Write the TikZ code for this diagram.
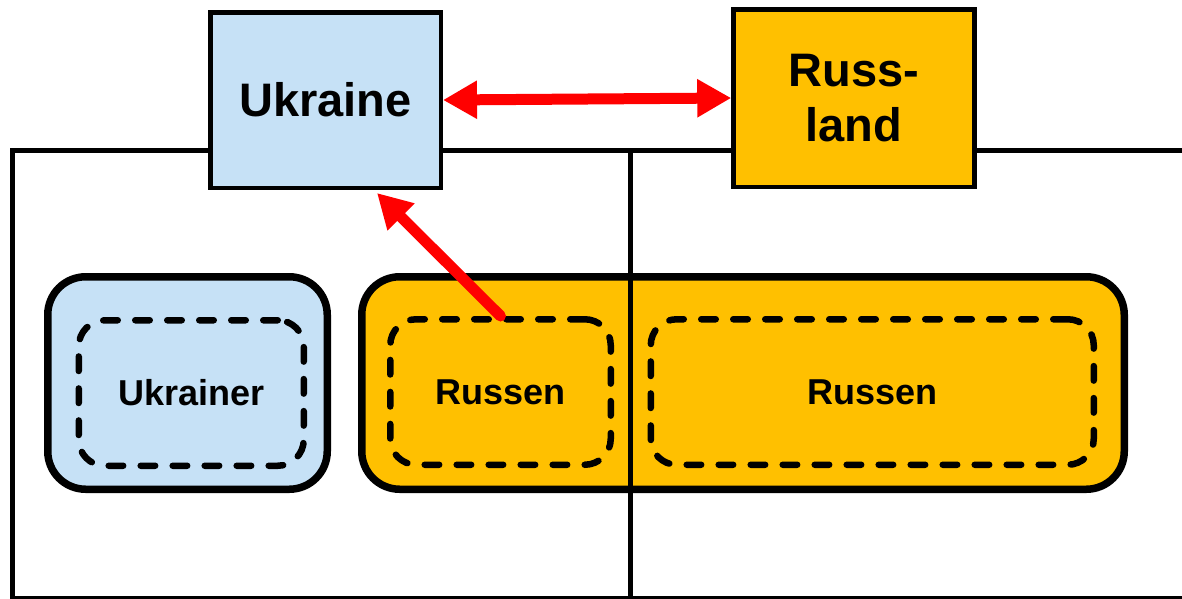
\documentclass[tikz,border=0pt]{standalone}
\usepackage{fontspec}
\setmainfont{Liberation Sans}
\usetikzlibrary{arrows.meta,positioning,calc}
\definecolor{ukblue}{RGB}{198,225,246}
\definecolor{ruorange}{RGB}{255,192,0}
\tikzset{
  bigtip/.tip={Triangle[length=34pt,width=36pt]},
  land/.style={draw=black,line width=4.5pt,align=center,inner sep=0pt,
    font=\bfseries\fontsize{47}{55}\selectfont},
  group/.style={draw=black,line width=7.5pt,rounded corners=38pt,
    minimum height=212.5pt},
  sub/.style={draw=black,line width=6.5pt,dash pattern=on 14.5pt off 17.5pt,
    line cap=round,rounded corners=26pt,minimum height=145.5pt,
    font=\bfseries\fontsize{36}{40}\selectfont},
  link/.style={red,line width=11pt,-bigtip},
}
\begin{document}
\begin{tikzpicture}[x=1pt,y=-1pt]
    %initialisation
    \useasboundingbox (0,0) rectangle (1182,598);
    \clip (0,0) rectangle (1182,598);
    %groups
    \node[group,fill=ukblue,minimum width=279.5pt] (ukgrp) at (187.5,383) {};
    \node[group,fill=ruorange,minimum width=762.5pt] (rugrp) at (743,383) {};
    \node[sub,minimum width=225pt] (ukr) at (191.25,393) {Ukrainer};
    \node[sub,minimum width=220.5pt] (rus1) at (500.5,392) {Russen};
    \node[sub,minimum width=443pt] (rus2) at (872.25,392) {Russen};
    %frame
    \draw[line width=5pt] (1190,150) -- (12,150) -- (12,598) -- (1190,598);
    \draw[line width=4.5pt] (630.5,150) -- (630.5,600);
    %countries
    \node[land,fill=ukblue,minimum width=230.5pt,minimum height=175.5pt] (uk) at (325.5,100) {Ukraine};
    \node[land,fill=ruorange,minimum width=241pt,minimum height=177.5pt] (ru) at (854,98) {Russ-\\land};
    %arrows
    \coordinate (ukin) at (377,193);
    \draw[link,bigtip-bigtip] (uk.east) -- (ru.west);
    \draw[link,line cap=round] (rus1.north) -- (ukin);
\end{tikzpicture}
\end{document}
